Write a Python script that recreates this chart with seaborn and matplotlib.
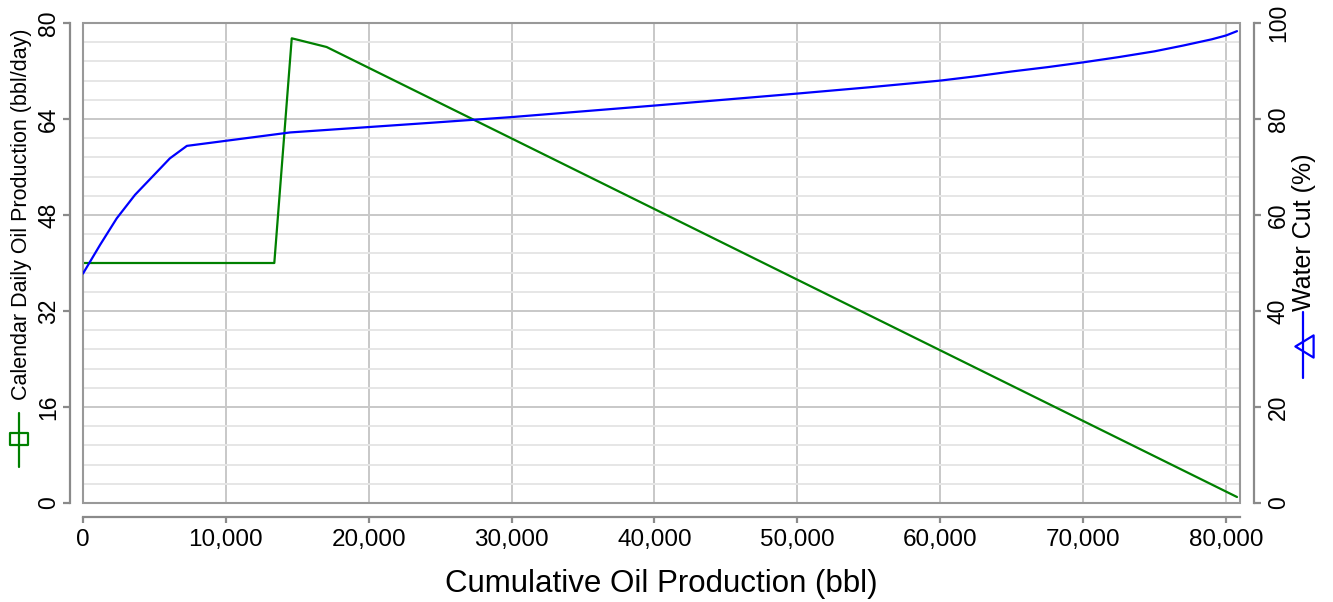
import numpy as np
import pandas as pd
import matplotlib
matplotlib.use("Agg")
import matplotlib.pyplot as plt
import seaborn as sns
from matplotlib.lines import Line2D
from matplotlib.patches import Rectangle
from matplotlib.ticker import MultipleLocator, FuncFormatter, FixedLocator
from matplotlib.path import Path

# ---- data ----
oil_cum = [0, 13390, 14610, 17050, 80770]
oil_rate = [40.0, 40.0, 77.45, 76.0, 1.0]

wc_cum = [0, 1200, 2360, 3640, 4830, 6080, 7270, 14500, 24300, 30000, 40000,
          50000, 55000, 60000, 62500, 65000, 67500, 70000, 72500, 75000,
          77000, 79000, 80000, 80770]
water_cut = [47.8, 53.8, 59.3, 64.2, 67.9, 71.8, 74.4, 77.2, 79.2, 80.4, 82.8,
             85.3, 86.6, 88.0, 88.9, 89.9, 90.8, 91.8, 92.9, 94.1,
             95.3, 96.6, 97.4, 98.3]

x_ticks = [0, 10000, 20000, 30000, 40000, 50000, 60000, 70000, 80000]
left_ticks = [0, 16, 32, 48, 64, 80]
right_ticks = [0, 20, 40, 60, 80, 100]

x_label = "Cumulative Oil Production (bbl)"
left_label = "Calendar Daily Oil Production (bbl/day)"
right_label = "Water Cut (%)"

sns.set_style("white")
plt.rcParams['font.family'] = ['Liberation Sans', 'DejaVu Sans']

W, H = 1333, 602
fig = plt.figure(figsize=(W / 100, H / 100), dpi=100)
L, R, T, B = 83, 1240, 23, 503
ax = fig.add_axes([L / W, 1 - B / H, (R - L) / W, (B - T) / H])

df_oil = pd.DataFrame({"cum": oil_cum, "rate": oil_rate})
df_wc = pd.DataFrame({"cum": wc_cum, "wc": water_cut})

sns.lineplot(data=df_oil, x="cum", y="rate", ax=ax, color="#008000",
             linewidth=1.6, errorbar=None, sort=False)
ax2 = ax.twinx()
sns.lineplot(data=df_wc, x="cum", y="wc", ax=ax2, color="#0000FF",
             linewidth=1.6, errorbar=None, sort=False)

ax.set_xlim(0, 80980)
ax.set_ylim(0, 80)
ax2.set_ylim(0, 100)

ax.xaxis.set_major_locator(FixedLocator(x_ticks))
ax.xaxis.set_major_formatter(FuncFormatter(lambda v, p: f"{int(v):,}"))
ax.yaxis.set_major_locator(FixedLocator(left_ticks))
ax.yaxis.set_minor_locator(MultipleLocator(3.2))
ax2.yaxis.set_major_locator(FixedLocator(right_ticks))

ax.set_xlabel("")
ax.set_ylabel("")
ax2.set_ylabel("")

# grid
ax.grid(which="major", axis="both", color="#c8c8c8", linewidth=1.4)
ax.grid(which="minor", axis="y", color="#e6e6e6", linewidth=1.4)
ax.set_axisbelow(True)

spine_col = "#8a8a8a"
for a in (ax, ax2):
    for s in a.spines.values():
        s.set_visible(False)
ax.spines["left"].set_visible(True)
ax.spines["left"].set_position(("outward", 9.4))
ax.spines["bottom"].set_visible(True)
ax.spines["bottom"].set_position(("outward", 10.4))
ax2.spines["right"].set_visible(True)
ax2.spines["right"].set_position(("outward", 10.3))
for s in (ax.spines["left"], ax.spines["bottom"], ax2.spines["right"]):
    s.set_color(spine_col)
    s.set_linewidth(1.6)

ax.tick_params(axis="x", which="major", direction="out", length=4, width=1.6,
               color=spine_col, labelsize=17.5, pad=4, bottom=True,
               labelcolor="black")
ax.tick_params(axis="y", which="major", direction="out", length=5, width=1.6,
               color=spine_col, labelsize=16.5, pad=2, left=True,
               labelcolor="black")
ax.tick_params(axis="y", which="minor", left=False, right=False)
ax2.tick_params(axis="y", which="major", direction="out", length=5, width=1.6,
                color=spine_col, labelsize=16.5, pad=4, right=True,
                labelcolor="black")
for lab in ax.get_yticklabels():
    lab.set_rotation(90)
    lab.set_va("center")
for lab in ax2.get_yticklabels():
    lab.set_rotation(90)
    lab.set_va("center")

# frame box
ax.add_patch(Rectangle((0, 0), 1, 1, transform=ax.transAxes, fill=False,
                       edgecolor="#999999", linewidth=1.5, zorder=2.5,
                       clip_on=False))

# labels
fig.text(661 / W, 1 - 592 / H, x_label, ha="center", va="baseline",
         fontsize=22.5, color="black")
fig.text(22 / W, 1 - 214 / H, left_label, rotation=90, ha="center",
         va="center", fontsize=15.5, color="black")
fig.text(1304 / W, 1 - 232 / H, right_label, rotation=90, ha="center",
         va="center", fontsize=18, color="black")

# legend glyphs in axis labels
rect_marker = Path([(-1, -0.62), (1, -0.62), (1, 0.62), (-1, 0.62), (-1, -0.62)],
                   [Path.MOVETO, Path.LINETO, Path.LINETO, Path.LINETO, Path.CLOSEPOLY])
tri_marker = Path([(-0.82, 0), (0.82, -1), (0.82, 1), (-0.82, 0)],
                  [Path.MOVETO, Path.LINETO, Path.LINETO, Path.CLOSEPOLY])

gx = 19 / W
fig.add_artist(Line2D([gx, gx], [1 - 413 / H, 1 - 467 / H], color="#008000",
                      linewidth=1.6, transform=fig.transFigure))
fig.add_artist(Line2D([gx], [1 - 439 / H], color="#008000", marker=rect_marker,
                      markersize=13, markerfacecolor="none", markeredgewidth=1.6,
                      linestyle="none", transform=fig.transFigure))

rx = 1303 / W
fig.add_artist(Line2D([rx, rx], [1 - 312 / H, 1 - 378 / H], color="#0000FF",
                      linewidth=1.6, transform=fig.transFigure))
fig.add_artist(Line2D([1304 / W], [1 - 346 / H], color="#0000FF", marker=tri_marker,
                      markersize=16, markerfacecolor="none", markeredgewidth=1.6,
                      linestyle="none", transform=fig.transFigure))

fig.savefig("out.png", dpi=100)
